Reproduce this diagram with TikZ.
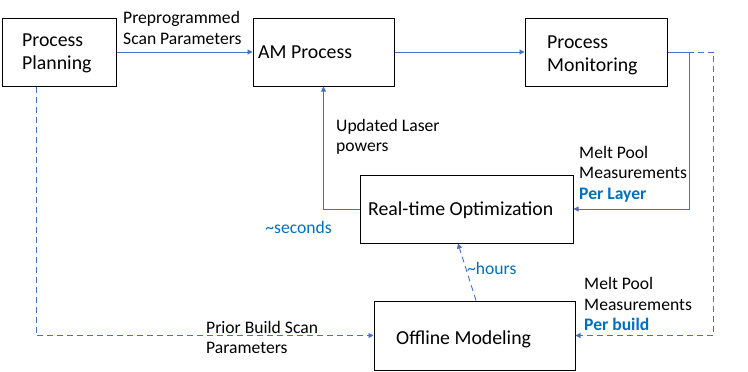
\documentclass[tikz,border=0pt]{standalone}
\usepackage{fontspec}
\setmainfont{Carlito}
\usetikzlibrary{arrows.meta}
\definecolor{lineblue}{HTML}{4472C4}
\definecolor{textblue}{HTML}{0070C0}
\tikzset{
  box/.style={draw=black, line width=1pt, minimum height=68pt, inner sep=0pt},
  boxtext/.style={anchor=west, inner sep=0pt, align=left, font=\fontsize{19.8}{23}\selectfont},
  lbl/.style={anchor=west, inner sep=0pt, align=left, font=\fontsize{17.6}{20.5}\selectfont},
  bluelbl/.style={lbl, text=textblue},
  arr/.style={draw=lineblue, line width=0.9pt, -{Triangle[length=5pt,width=5pt]}},
  darr/.style={arr, dash pattern=on 6pt off 4pt},
}
\begin{document}
\begin{tikzpicture}[x=1pt,y=-1pt]
\useasboundingbox (0,0) rectangle (748,372);
% boxes
\node[box, minimum width=114pt] (PP) at (59,52) {};
\node[box, minimum width=141pt] (AM) at (323.5,52) {};
\node[box, minimum width=142pt] (PM) at (596,52) {};
\node[box, minimum width=213pt] (RTO) at (466.5,209) {};
\node[box, minimum width=201pt, minimum height=69pt] (OM) at (474.5,335.5) {};
% box texts
\node[boxtext] (tPP) at (22,53.5) {Process\\Planning};
\node[boxtext] (tAM) at (258,52.5) {AM Process};
\node[boxtext] (tPM) at (547,55.5) {Process\\Monitoring};
\node[boxtext] (tRTO) at (368,210.5) {Real-time Optimization};
\node[boxtext] (tOM) at (396,339) {Offline Modeling};
% connectors
\draw[arr] (PP) -- (AM);
\draw[arr] (AM) -- (PM);
\draw[arr] (PM.east) -- ++(22,0) |- (RTO.east);
\draw[darr] (PM.east) -- ++(46,0) |- (OM.east);
\draw[arr] (RTO.west) -| (AM.south);
\draw[darr] ([xshift=1.5pt]OM.north) -- ([xshift=-8.5pt]RTO.south);
\draw[darr] ([xshift=-23pt]PP.south) |- (OM.west);
% labels
\node[lbl] (l1) at (123,28) {Preprogrammed\\Scan Parameters};
\node[lbl] (l2) at (336,137) {Updated Laser\\powers};
\node[lbl] (l3) at (579,174) {Melt Pool\\Measurements\\\textcolor{textblue}{\bfseries Per Layer}};
\node[bluelbl, anchor=east] (l4) at (332,227) {\textasciitilde seconds};
\node[bluelbl] (l5) at (467,268) {\textasciitilde hours};
\node[lbl] (l6) at (584,304) {Melt Pool\\Measurements\\\textcolor{textblue}{\bfseries Per build}};
\node[lbl] (l7) at (206,337.5) {Prior Build Scan\\Parameters};
\end{tikzpicture}
\end{document}
